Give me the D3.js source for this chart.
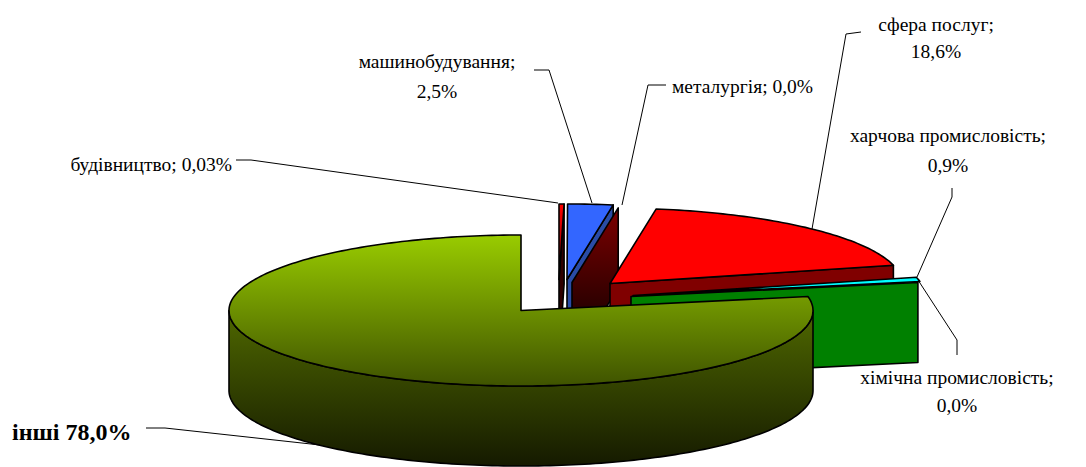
<!DOCTYPE html>
<html>
<head>
<meta charset="utf-8">
<title>Pie</title>
<script src="https://cdn.jsdelivr.net/npm/d3@7"></script>
<style>
  html, body { margin: 0; padding: 0; background: #fff; }
  svg { display: block; }
  text { font-family: "Liberation Serif", serif; font-size: 19.5px; fill: #000; }
</style>
</head>
<body>
<svg id="chart" width="1086" height="467"></svg>
<script>
// Data
const categories = ["будівництво", "машинобудування", "металургія", "сфера послуг",
  "харчова промисловість", "хімічна промисловість", "інші"];
const values = [0.03, 2.5, 0.0, 18.6, 0.9, 0.0, 78.0];
const valueLabels = ["0,03%", "2,5%", "0,0%", "18,6%", "0,9%", "0,0%", "78,0%"];

// Shape of the projected pie
const cx = 521, cy = 310.5, rx = 292, ry = 75.5, depth = 80;
const minSweep = Math.PI / 180; // tiny non-zero slices still get a visible sliver

// Per slice: how far it is pulled out of the pie, in pixels
const explode = [[38, -31], [46, -31], [51, -28], [89, -27], [112, -15], [110, -14], [0, 0]];

// Per slice: top face and cut face colours
const topFill = ["url(#gradThin)", "#3366ff", null, "#ff0000", "#00ffff", null, "url(#gradTop)"];
const sideFill = ["#300000", "#2a4ca6", "url(#gradMaroon)", "#800000", null, "#008000", "url(#gradSide)"];

// Label layout: text lines with anchor x and baseline y, leader polyline
const labelLayout = [
  { anchor: "end", x: 232, ys: [171], leader: [[236, 160], [251, 160], [558, 203]] },
  { anchor: "middle", x: 437, ys: [68, 98], leader: [[534, 70], [549, 70], [592, 203]] },
  { anchor: "start", x: 672, ys: [93], leader: [[666, 85], [648, 85], [622, 205]] },
  { anchor: "middle", x: 936, ys: [31, 58], leader: [[861, 32], [846, 34], [812, 229]] },
  { anchor: "middle", x: 948, ys: [142, 172], leader: [[952, 188], [952, 197], [917, 277]] },
  { anchor: "middle", x: 957, ys: [384, 412], leader: [[957, 355], [957, 340], [918, 280]] },
  { anchor: "start", x: 12, ys: [440], leader: [[146, 428], [165, 428], [320, 445]], bold: true }
];

const svg = d3.select("#chart");

function addGradient(id, y1, y2, stops) {
  const g = svg.append("defs").append("linearGradient")
    .attr("id", id)
    .attr("gradientUnits", "userSpaceOnUse")
    .attr("x1", 0).attr("x2", 0).attr("y1", y1).attr("y2", y2);
  stops.forEach((c, i) => {
    g.append("stop").attr("offset", i / (stops.length - 1)).attr("stop-color", c);
  });
}

addGradient("gradTop", cy - ry, cy + ry, ["#99cc00", "#3f5300"]);
addGradient("gradSide", cy, cy + ry + depth, ["#4f6800", "#151a00"]);
addGradient("gradMaroon", 204, 310, ["#800000", "#2a0000"]);
addGradient("gradThin", 203, 280, ["#ff0000", "#800000"]);

const pieAngles = d3.pie().sort(null).value(d => d).startAngle(0).endAngle(2 * Math.PI)(values);

const slices = pieAngles.map((a, i) => {
  const sweep = a.endAngle - a.startAngle;
  return {
    start: a.startAngle,
    end: sweep > 0 && sweep < minSweep ? a.startAngle + minSweep : a.endAngle,
    ox: cx + explode[i][0],
    oy: cy + explode[i][1],
    top: topFill[i],
    side: sideFill[i]
  };
});

function rimPoint(s, angle, dy = 0) {
  return [s.ox + rx * Math.sin(angle), s.oy - ry * Math.cos(angle) + dy];
}

function arcPoints(s, a0, a1, dy = 0) {
  const n = Math.max(2, Math.ceil(Math.abs(a1 - a0) / 0.02));
  return d3.range(n + 1).map(k => rimPoint(s, a0 + (a1 - a0) * k / n, dy));
}

const line = d3.line();

function drawFace(points, fill) {
  svg.append("path")
    .attr("d", line(points) + "Z")
    .attr("fill", fill)
    .attr("stroke", "#000")
    .attr("stroke-width", 1.6)
    .attr("stroke-linejoin", "round");
}

// Cut face along the clockwise end of a slice
function drawCutFace(s) {
  const rim = rimPoint(s, s.end);
  drawFace([[s.ox, s.oy], rim, [rim[0], rim[1] + depth], [s.ox, s.oy + depth]], s.side);
}

function drawTopFace(s) {
  drawFace([[s.ox, s.oy], ...arcPoints(s, s.start, s.end)], s.top);
}

// Outer wall, only the front half of the ellipse can be seen
function drawOuterWall(s) {
  const a0 = Math.max(s.start, Math.PI / 2);
  const a1 = Math.min(s.end, 3 * Math.PI / 2);
  drawFace([...arcPoints(s, a0, a1), ...arcPoints(s, a1, a0, depth)], s.side);
}

// Back slices first, the big front one last
slices.forEach((s, i) => {
  if (i === slices.length - 1) {
    drawOuterWall(s);
    drawTopFace(s);
    return;
  }
  if (s.side) drawCutFace(s);
  if (s.top) drawTopFace(s);
});

// Leader lines and labels
const leaderLine = d3.line();

categories.forEach((name, i) => {
  const layout = labelLayout[i];

  svg.append("path")
    .attr("d", leaderLine(layout.leader))
    .attr("fill", "none")
    .attr("stroke", "#000")
    .attr("stroke-width", 1);

  const lines = layout.bold
    ? [name + " " + valueLabels[i]]
    : layout.ys.length === 2
      ? [name + ";", valueLabels[i]]
      : [name + "; " + valueLabels[i]];

  lines.forEach((t, k) => {
    svg.append("text")
      .attr("x", layout.x)
      .attr("y", layout.ys[k])
      .attr("text-anchor", layout.anchor)
      .style("font-weight", layout.bold ? "bold" : null)
      .style("font-size", layout.bold ? "24px" : null)
      .text(t);
  });
});
</script>
</body>
</html>
